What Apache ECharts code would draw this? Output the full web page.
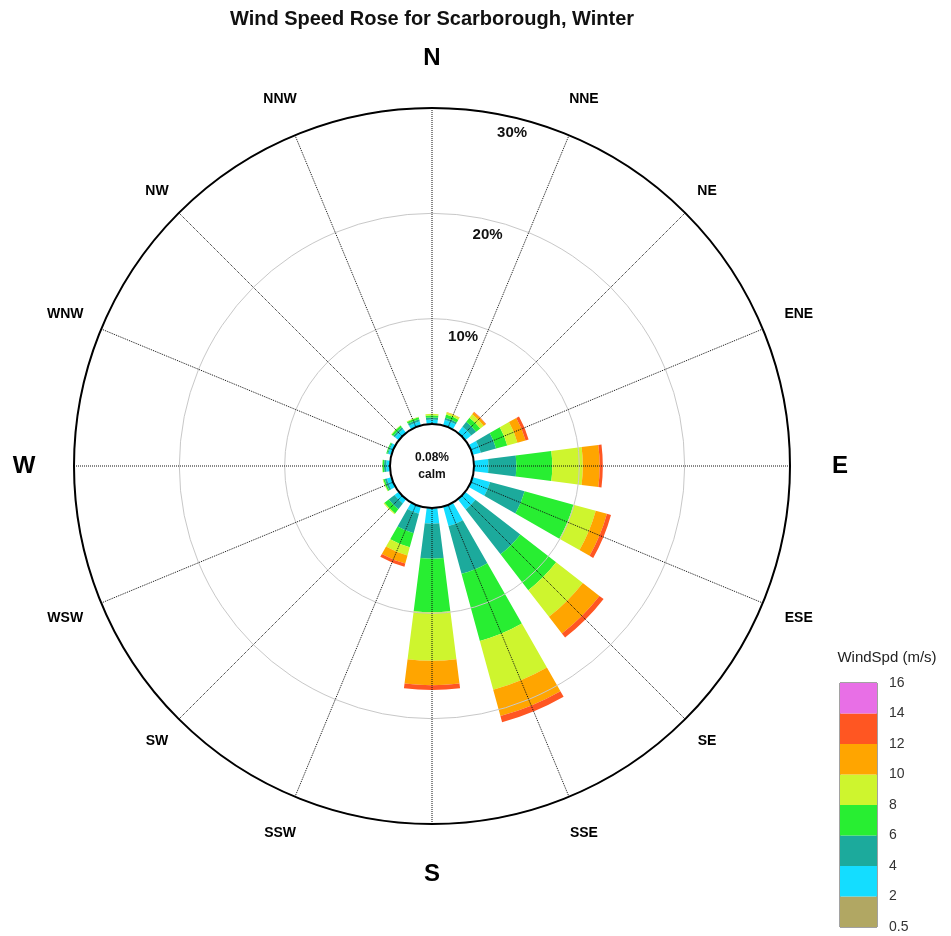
<!DOCTYPE html>
<html>
<head>
<meta charset="utf-8">
<script src="https://cdn.jsdelivr.net/npm/echarts@6/dist/echarts.min.js"></script>
<style>
html,body{margin:0;padding:0;background:#fff;}
#chart{width:951px;height:936px;}
</style>
</head>
<body>
<div id="chart"></div>
<script>
// ---- data ----
const dirs = ['N','NNE','NE','ENE','E','ESE','SE','SSE','S','SSW','SW','WSW','W','WNW','NW','NNW'];
const cardinalDirs = ['N','E','S','W'];
const interCardinalDirs = ['NE','SE','SW','NW'];
const speedBins = ['0.5-2','2-4','4-6','6-8','8-10','10-12','12-14','14-16'];
const legendTicks = ['0.5','2','4','6','8','10','12','14','16'];
const radiusTicks = [10, 20, 30];
const calmPct = 0.08;
// frequency (%) per direction for each wind-speed bin
const spd0_5to2 = [0.02,0.02,0.02,0.02,0.03,0.03,0.03,0.03,0.03,0.02,0.02,0.02,0.02,0.02,0.02,0.02];
const spd2to4   = [0.4,0.55,0.7,0.8,1.35,1.7,1.2,1.9,1.46,0.7,0.5,0.45,0.35,0.3,0.45,0.4];
const spd4to6   = [0.2,0.2,0.6,1.5,2.65,3.4,5.4,4.7,3.33,1.9,0.7,0.2,0.2,0.1,0.2,0.2];
const spd6to8   = [0.2,0.3,0.5,1.1,3.4,4.8,4.3,6.6,5.08,1.4,0.5,0.15,0.15,0.1,0.2,0.2];
const spd8to10  = [0.15,0.2,0.4,1.0,2.9,2.2,3.2,4.8,4.61,0.8,0.1,0.05,0.02,0,0.05,0.05];
const spd10to12 = [0,0.05,0.25,0.8,1.6,1.1,2.0,2.6,2.31,0.8,0,0,0,0,0,0];
const spd12to14 = [0,0,0.05,0.3,0.3,0.4,0.5,0.6,0.45,0.3,0,0,0,0,0,0];
const spd14to16 = [0,0,0,0,0,0,0,0,0,0,0,0,0,0,0,0];
const binValues = [spd0_5to2, spd2to4, spd4to6, spd6to8, spd8to10, spd10to12, spd12to14, spd14to16];

// ---- styles / layout ----
const binColors = ['#B1A763','#14DDFF','#1CAA9C','#28EE32','#CEF52E','#FFA500','#FF5622','#E86FE6'];
const CX = 432, CY = 466;
const FONT = '"Liberation Sans", Arial, sans-serif';

const chart = echarts.init(document.getElementById('chart'), null, {renderer:'canvas'});

const series = [];
binValues.forEach((vals, i) => {
  series.push({
    name: speedBins[i], type: 'bar', coordinateSystem: 'polar', polarIndex: 0,
    stack: 'rose', data: vals, barCategoryGap: '36%',
    itemStyle: {color: binColors[i]}, silent: true, z: 2
  });
});
binValues.forEach((vals, i) => {
  series.push({
    name: 'legend ' + speedBins[i], type: 'bar', xAxisIndex: 0, yAxisIndex: 0,
    stack: 'legend', data: [1], barWidth: '100%',
    itemStyle: {color: binColors[i]}, silent: true
  });
});
function dirLabelSeries(polarIndex, list, size) {
  return {
    type: 'scatter', coordinateSystem: 'polar', polarIndex: polarIndex, symbolSize: 0, silent: true,
    itemStyle: {opacity: 1},
    data: list.map(d => [1, d]),
    label: {show: true, position: 'inside', color: '#000', opacity: 1, fontSize: size, fontWeight: 'bold',
      fontFamily: FONT, textBorderWidth: 0, formatter: p => p.value[1]}
  };
}
const otherDirs = dirs.filter(d => !cardinalDirs.includes(d) && !interCardinalDirs.includes(d));
series.push(dirLabelSeries(2, dirs.filter(d => cardinalDirs.includes(d)), 24));
series.push(dirLabelSeries(3, otherDirs, 14));
series.push(dirLabelSeries(5, dirs.filter(d => interCardinalDirs.includes(d)), 14));

const option = {
  backgroundColor: '#fff',
  animation: false,
  polar: [
    {center: [CX, CY], radius: [42, 358]},
    {center: [CX, CY], radius: [42, 358]},
    {center: [CX, CY], radius: 408},
    {center: [CX, CY], radius: 397},
    {center: [CX, CY], radius: [28, 343]},
    {center: [CX, CY], radius: 389}
  ],
  angleAxis: [
    {polarIndex: 0, type: 'category', data: dirs, startAngle: 101.25, clockwise: true, show: false},
    {polarIndex: 1, type: 'value', min: 0, max: 360, interval: 22.5, startAngle: 90, clockwise: true, z: 10,
      axisLine: {show: true, lineStyle: {color: '#000', width: 2}},
      axisTick: {show: false}, axisLabel: {show: false},
      splitLine: {show: true, lineStyle: {color: '#111', width: 1, type: [1, 1]}}},
    {polarIndex: 2, type: 'category', data: dirs, startAngle: 101.25, clockwise: true, show: false},
    {polarIndex: 3, type: 'category', data: dirs, startAngle: 101.25, clockwise: true, show: false},
    {polarIndex: 4, type: 'value', min: 0, max: 360, startAngle: 76.5, show: false},
    {polarIndex: 5, type: 'category', data: dirs, startAngle: 101.25, clockwise: true, show: false}
  ],
  radiusAxis: [
    {polarIndex: 0, type: 'value', min: 0, max: 30, show: false},
    {polarIndex: 1, type: 'value', min: 0, max: 30, interval: 10, z: 9,
      axisLine: {show: false}, axisTick: {show: false}, axisLabel: {show: false},
      splitLine: {show: true, lineStyle: {color: '#c8c8c8', width: 1}}},
    {polarIndex: 2, type: 'value', min: 0, max: 1, show: false},
    {polarIndex: 3, type: 'value', min: 0, max: 1, show: false},
    {polarIndex: 4, type: 'value', min: 0, max: 30, interval: 10, z: 11,
      axisLine: {show: false}, axisTick: {show: false}, splitLine: {show: false},
      axisLabel: {show: true, margin: 0, rotate: 0, align: 'center', verticalAlign: 'middle',
        fontSize: 15, fontWeight: 'bold', color: '#111', fontFamily: FONT,
        formatter: v => radiusTicks.includes(v) ? v + '%' : ''}},
    {polarIndex: 5, type: 'value', min: 0, max: 1, show: false}
  ],
  grid: [{left: 840, top: 683, width: 37, height: 244, show: true, borderColor: '#444', borderWidth: 1, backgroundColor: 'transparent'}],
  xAxis: [{gridIndex: 0, type: 'category', data: ['WindSpd'], show: false}],
  yAxis: [{gridIndex: 0, type: 'value', position: 'right', min: 0, max: 8, interval: 1,
    axisLine: {show: false}, axisTick: {show: false}, splitLine: {show: false},
    axisLabel: {margin: 12, fontSize: 14, color: '#333', fontFamily: FONT, formatter: v => legendTicks[v]}}],
  graphic: [
    {type: 'text', x: CX, y: 19, z: 20,
      style: {text: 'Wind Speed Rose for Scarborough, Winter', fill: '#111', font: 'bold 20px ' + FONT,
        align: 'center', verticalAlign: 'middle', textAlign: 'center', textVerticalAlign: 'middle'}},
    {type: 'text', x: 887, y: 658, z: 20,
      style: {text: 'WindSpd (m/s)', fill: '#222', font: '15px ' + FONT,
        align: 'center', verticalAlign: 'middle', textAlign: 'center', textVerticalAlign: 'middle'}},
    {type: 'text', x: CX, y: CY, z: 20,
      style: {text: calmPct.toFixed(2) + '%\ncalm', fill: '#111', font: 'bold 12px ' + FONT, lineHeight: 17,
        align: 'center', verticalAlign: 'middle', textAlign: 'center', textVerticalAlign: 'middle'}}
  ],
  series: series
};
chart.setOption(option);
</script>
</body>
</html>
